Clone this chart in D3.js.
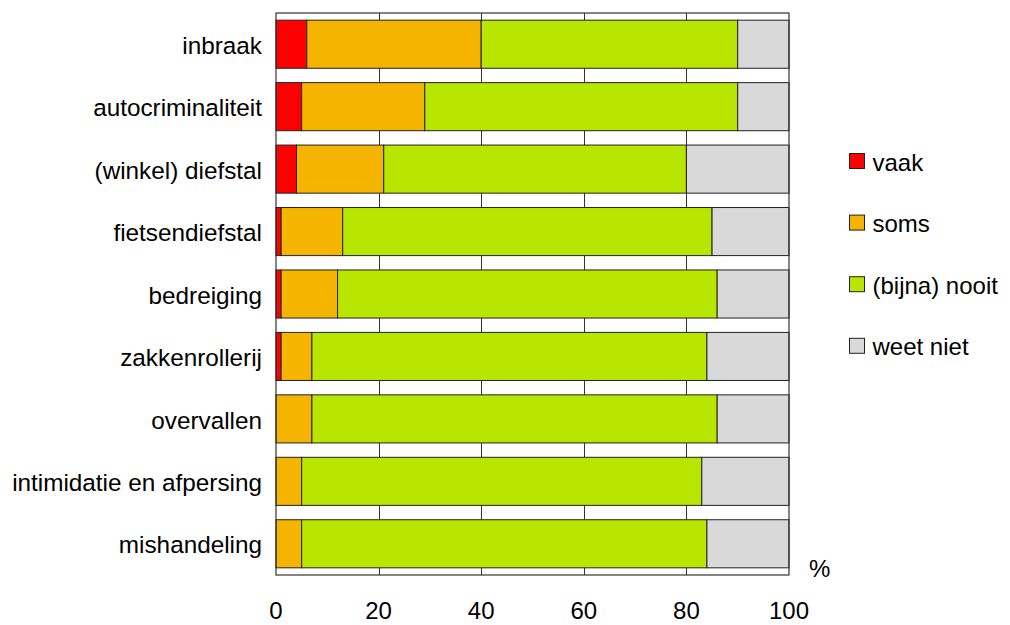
<!DOCTYPE html>
<html>
<head>
<meta charset="utf-8">
<script src="https://cdn.jsdelivr.net/npm/d3@7"></script>
<style>
  html, body { margin: 0; padding: 0; background: #fff; }
  svg { display: block; font-family: "Liberation Sans", Arial, sans-serif; }
</style>
</head>
<body>
<svg id="chart" width="1010" height="625"></svg>
<script>
const categories = ["inbraak", "autocriminaliteit", "(winkel) diefstal", "fietsendiefstal", "bedreiging", "zakkenrollerij", "overvallen", "intimidatie en afpersing", "mishandeling"];
const seriesNames = ["vaak", "soms", "(bijna) nooit", "weet niet"];
const vaak     = [6, 5, 4, 1, 1, 1, 0, 0, 0];
const soms     = [34, 24, 17, 12, 11, 6, 7, 5, 5];
const nooit    = [50, 61, 59, 72, 74, 77, 79, 78, 79];
const weetNiet = [10, 10, 20, 15, 14, 16, 14, 17, 16];
const xTicks = [0, 20, 40, 60, 80, 100];
const colors = ["#ff0000", "#f5b400", "#b9e600", "#d9d9d9"];

const svg = d3.select("#chart");
const plotLeft = 276, plotRight = 789, plotTop = 13, plotBottom = 575;

const x = d3.scaleLinear().domain([0, 100]).range([plotLeft, plotRight]);
const y = d3.scaleBand().domain(categories).range([plotTop, plotBottom]).paddingInner(0.23).paddingOuter(0.115);

const rows = categories.map((c, i) => ({ cat: c, vaak: vaak[i], soms: soms[i], nooit: nooit[i], wn: weetNiet[i] }));
const keys = ["vaak", "soms", "nooit", "wn"];
const stacked = d3.stack().keys(keys)(rows);

// gridlines
svg.append("g").selectAll("line")
  .data(xTicks.filter(t => t > 0 && t < 100))
  .join("line")
  .attr("x1", d => Math.round(x(d)) + 0.5).attr("x2", d => Math.round(x(d)) + 0.5)
  .attr("y1", plotTop).attr("y2", plotBottom)
  .attr("stroke", "#333").attr("stroke-width", 1);

// bars
svg.append("g").selectAll("g")
  .data(stacked)
  .join("g")
  .attr("fill", (d, i) => colors[i])
  .selectAll("rect")
  .data(d => d.filter(s => s[1] - s[0] > 0))
  .join("rect")
  .attr("x", d => x(d[0]))
  .attr("y", d => y(d.data.cat))
  .attr("width", d => x(d[1]) - x(d[0]))
  .attr("height", y.bandwidth())
  .attr("stroke", "#222")
  .attr("stroke-width", 1);

// plot frame
svg.append("rect")
  .attr("x", plotLeft).attr("y", plotTop)
  .attr("width", plotRight - plotLeft).attr("height", plotBottom - plotTop)
  .attr("fill", "none").attr("stroke", "#333").attr("stroke-width", 1.2);

// category labels
svg.append("g").selectAll("text")
  .data(categories)
  .join("text")
  .attr("x", plotLeft - 14)
  .attr("y", d => y(d) + y.bandwidth() / 2)
  .attr("dy", "0.4em")
  .attr("text-anchor", "end")
  .attr("font-size", 24.3)
  .attr("fill", "#000")
  .text(d => d);

// x tick labels
svg.append("g").selectAll("text")
  .data(xTicks)
  .join("text")
  .attr("x", d => x(d))
  .attr("y", 619)
  .attr("text-anchor", "middle")
  .attr("font-size", 24)
  .attr("fill", "#000")
  .text(d => d);

// unit
svg.append("text")
  .attr("x", 809).attr("y", 577)
  .attr("font-size", 24).attr("fill", "#000")
  .text("%");

// legend
const legend = svg.append("g").selectAll("g")
  .data(seriesNames)
  .join("g")
  .attr("transform", (d, i) => `translate(849.5, ${153.5 + i * 61.6})`);
legend.append("rect")
  .attr("width", 15).attr("height", 15)
  .attr("fill", (d, i) => colors[i])
  .attr("stroke", "#222").attr("stroke-width", 1);
legend.append("text")
  .attr("x", 23).attr("y", 17)
  .attr("font-size", 24).attr("fill", "#000")
  .text(d => d);
</script>
</body>
</html>
